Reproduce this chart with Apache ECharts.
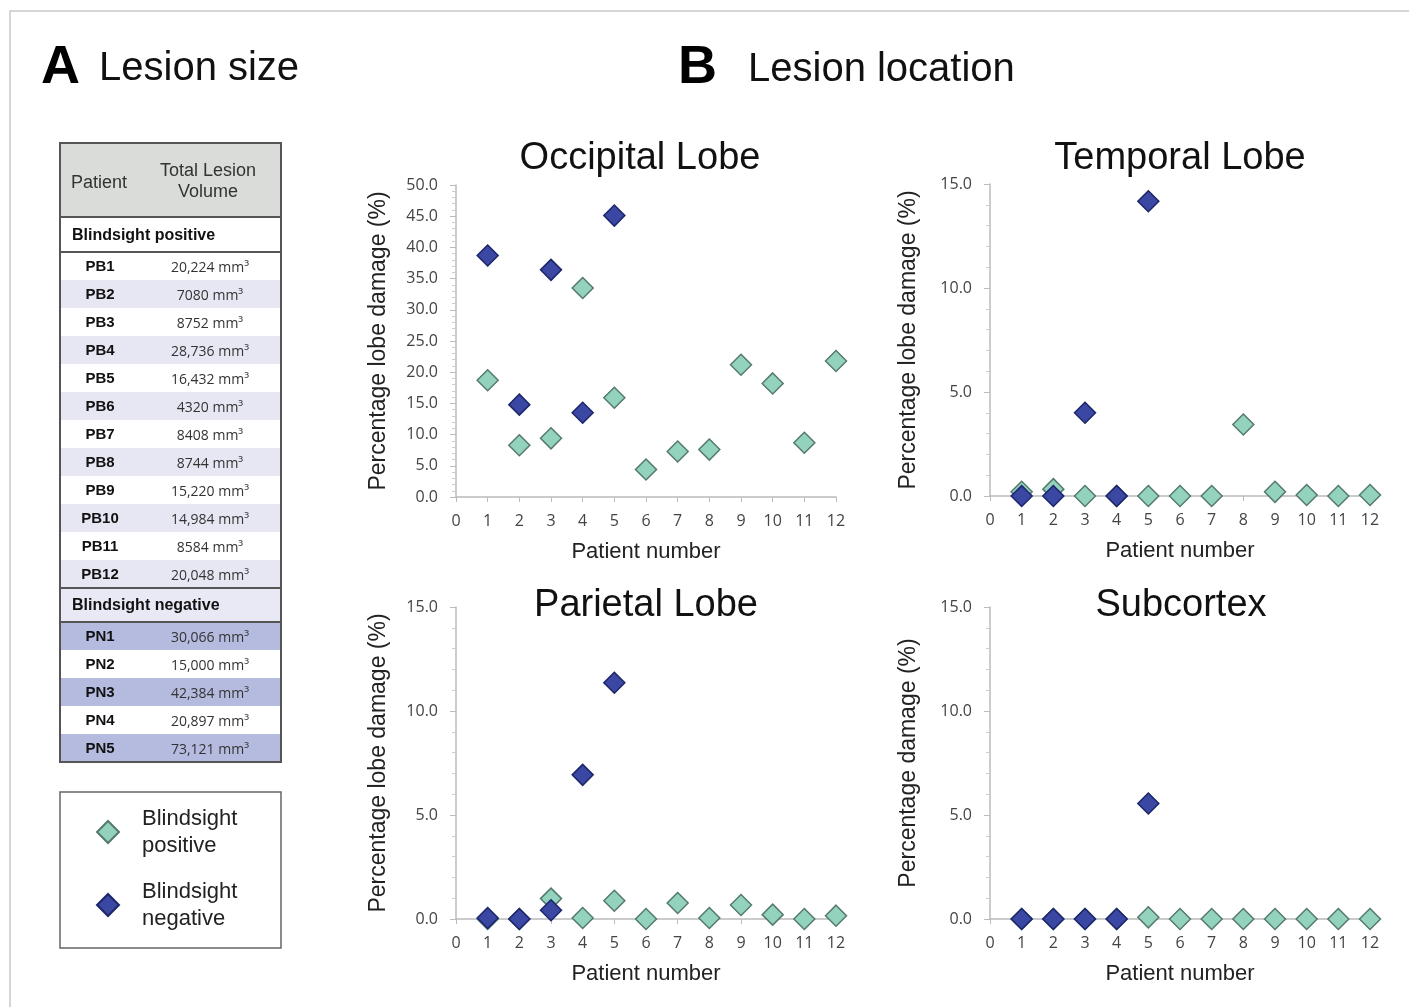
<!DOCTYPE html>
<html>
<head>
<meta charset="utf-8">
<script src="https://cdn.jsdelivr.net/npm/echarts@6/dist/echarts.min.js"></script>
<style>
html,body{margin:0;padding:0;background:#fff;}
#chart{width:1409px;height:1007px;}
</style>
</head>
<body>
<div id="chart"></div>
<script>
// ---------- Data ----------
const patientTicks = [0,1,2,3,4,5,6,7,8,9,10,11,12];
const posPatients = [1,2,3,4,5,6,7,8,9,10,11,12];
const negPatients = [1,2,3,4,5];

const occipitalPos = [18.7, 8.3, 9.4, 33.5, 15.9, 4.4, 7.3, 7.6, 21.2, 18.2, 8.7, 21.8];
const occipitalNeg = [38.7, 14.8, 36.4, 13.5, 45.1];
const temporalPos  = [0.2, 0.33, 0, 0, 0, 0, 0, 3.44, 0.2, 0.05, 0, 0.05];
const temporalNeg  = [0, 0, 4.0, 0, 14.17];
const parietalPos  = [0, 0, 0.98, 0.05, 0.88, 0, 0.77, 0.05, 0.67, 0.21, 0, 0.16];
const parietalNeg  = [0.05, 0, 0.42, 6.93, 11.36];
const subcortexPos = [0, 0, 0, 0, 0.08, 0, 0, 0, 0, 0, 0, 0];
const subcortexNeg = [0, 0, 0, 0, 5.55];

const panelTitles = ['Occipital Lobe', 'Temporal Lobe', 'Parietal Lobe', 'Subcortex'];
const yNames = ['Percentage lobe damage (%)', 'Percentage lobe damage (%)', 'Percentage lobe damage (%)', 'Percentage damage (%)'];
const yMax = [50, 15, 15, 15];

const pbIds = ['PB1','PB2','PB3','PB4','PB5','PB6','PB7','PB8','PB9','PB10','PB11','PB12'];
const pbVolumes = ['20,224','7080','8752','28,736','16,432','4320','8408','8744','15,220','14,984','8584','20,048'];
const pnIds = ['PN1','PN2','PN3','PN4','PN5'];
const pnVolumes = ['30,066','15,000','42,384','20,897','73,121'];

const seriesNames = ['Blindsight positive', 'Blindsight negative'];

// ---------- Styles ----------
const POS_FILL = '#93d3bd', POS_BORDER = '#557a6d';
const NEG_FILL = '#3a47a3', NEG_BORDER = '#1c2668';
const FONT = '"Liberation Sans", Arial, sans-serif';
const TICKFONT = '"Open Sans", "Noto Sans", sans-serif';

const gridPos = [
  {left: 456, top: 185, width: 380, height: 312},
  {left: 990, top: 184, width: 380, height: 312},
  {left: 456, top: 607, width: 380, height: 312},
  {left: 990, top: 607, width: 380, height: 312}
];
const titlePos = [
  {x: 635, y: 135}, {x: 1175, y: 135}, {x: 641, y: 582}, {x: 1176, y: 582}
];
const posData = [occipitalPos, temporalPos, parietalPos, subcortexPos];
const negData = [occipitalNeg, temporalNeg, parietalNeg, subcortexNeg];

const grids = [], xAxes = [], yAxes = [], series = [], titles = [];
for (let i = 0; i < 4; i++) {
  grids.push(Object.assign({containLabel: false}, gridPos[i]));
  titles.push({
    text: panelTitles[i], left: titlePos[i].x, top: titlePos[i].y, textAlign: 'center',
    textStyle: {fontFamily: FONT, fontSize: 38, fontWeight: 'normal', color: '#111'}
  });
  xAxes.push({
    gridIndex: i, type: 'value', min: 0, max: 12, interval: 1,
    name: 'Patient number', nameLocation: 'middle', nameGap: 44,
    nameTextStyle: {fontFamily: FONT, fontSize: 22, color: '#222'},
    axisLine: {show: true, lineStyle: {color: '#bbb', width: 1.5}},
    axisTick: {show: true, length: 5, lineStyle: {color: '#bbb'}},
    axisLabel: {fontFamily: TICKFONT, fontSize: 16, color: '#444', margin: 16,
      formatter: v => patientTicks.includes(v) ? String(v) : ''},
    splitLine: {show: false}
  });
  yAxes.push({
    gridIndex: i, type: 'value', min: 0, max: yMax[i], interval: 5,
    name: yNames[i], nameLocation: 'middle', nameGap: i % 2 === 0 ? 66 : 70,
    nameTextStyle: {fontFamily: FONT, fontSize: 23, color: '#222'},
    axisLine: {show: true, lineStyle: {color: '#bbb', width: 1.5}},
    axisTick: {show: true, length: 6, lineStyle: {color: '#bbb'}},
    minorTick: {show: true, splitNumber: 5, length: 4, lineStyle: {color: '#ccc'}},
    axisLabel: {fontFamily: TICKFONT, fontSize: 16, color: '#444', margin: 18,
      formatter: v => v.toFixed(1)},
    splitLine: {show: false}
  });
  series.push({
    name: seriesNames[0], type: 'scatter', xAxisIndex: i, yAxisIndex: i,
    symbol: 'diamond', symbolSize: 21, clip: false, z: 2,
    itemStyle: {color: POS_FILL, borderColor: POS_BORDER, borderWidth: 1.5, opacity: 1},
    data: posPatients.map((p, k) => [p, posData[i][k]])
  });
  series.push({
    name: seriesNames[1], type: 'scatter', xAxisIndex: i, yAxisIndex: i,
    symbol: 'diamond', symbolSize: 21, clip: false, z: 3,
    itemStyle: {color: NEG_FILL, borderColor: NEG_BORDER, borderWidth: 1.5, opacity: 1},
    data: negPatients.map((p, k) => [p, negData[i][k]])
  });
}

// ---------- Graphic: frame, headings, table, legend box ----------
const g = [];
g.push({type: 'polyline', shape: {points: [[10, 1007], [10, 11], [1409, 11]]},
  style: {stroke: '#c8c8c8', lineWidth: 1.5, fill: null}, silent: true});
g.push({type: 'text', x: 41, y: 68, style: {text: 'A', font: 'bold 54px ' + FONT, fill: '#000', verticalAlign: 'middle'}});
g.push({type: 'text', x: 99, y: 69, style: {text: 'Lesion size', font: '40px ' + FONT, fill: '#111', verticalAlign: 'middle'}});
g.push({type: 'text', x: 678, y: 68, style: {text: 'B', font: 'bold 54px ' + FONT, fill: '#000', verticalAlign: 'middle'}});
g.push({type: 'text', x: 748, y: 70, style: {text: 'Lesion location', font: '40px ' + FONT, fill: '#111', verticalAlign: 'middle'}});

// Table
const TL = 60, TR = 281, TW = TR - TL;
const ROW = 28;
const headTop = 143, headBot = 217;
const sec1Top = 217, sec1Bot = 252;
const pbTop = 252;
const sec2Top = pbTop + ROW * pbIds.length;     // 588
const sec2Bot = sec2Top + 34;                    // 622
const pnTop = sec2Bot;
const tableBot = pnTop + ROW * pnIds.length;     // 762
const colA = 100, colB = 210;

g.push({type: 'rect', shape: {x: TL, y: headTop, width: TW, height: headBot - headTop}, style: {fill: '#d9dcd9'}});
g.push({type: 'rect', shape: {x: TL, y: sec2Top, width: TW, height: sec2Bot - sec2Top}, style: {fill: '#e9e9f5'}});
pbIds.forEach((id, k) => {
  const y = pbTop + k * ROW;
  if (k % 2 === 1) g.push({type: 'rect', shape: {x: TL, y: y, width: TW, height: ROW}, style: {fill: '#e7e7f3'}});
  g.push({type: 'text', x: colA, y: y + ROW / 2 + 1, style: {text: id, font: 'bold 15px ' + FONT, fill: '#111', align: 'center', verticalAlign: 'middle'}});
  g.push({type: 'text', x: colB, y: y + ROW / 2 + 2, style: {text: pbVolumes[k] + ' mm³', font: '14px ' + TICKFONT, fill: '#333', align: 'center', verticalAlign: 'middle'}});
});
pnIds.forEach((id, k) => {
  const y = pnTop + k * ROW;
  if (k % 2 === 0) g.push({type: 'rect', shape: {x: TL, y: y, width: TW, height: ROW}, style: {fill: '#b5bbdf'}});
  g.push({type: 'text', x: colA, y: y + ROW / 2 + 1, style: {text: id, font: 'bold 15px ' + FONT, fill: '#111', align: 'center', verticalAlign: 'middle'}});
  g.push({type: 'text', x: colB, y: y + ROW / 2 + 2, style: {text: pnVolumes[k] + ' mm³', font: '14px ' + TICKFONT, fill: '#333', align: 'center', verticalAlign: 'middle'}});
});
g.push({type: 'text', x: 99, y: 183, style: {text: 'Patient', font: '18px ' + FONT, fill: '#333', align: 'center', verticalAlign: 'middle'}});
g.push({type: 'text', x: 208, y: 182, style: {text: 'Total Lesion\nVolume', font: '18px ' + FONT, fill: '#333', align: 'center', verticalAlign: 'middle', lineHeight: 21}});
g.push({type: 'text', x: 72, y: (sec1Top + sec1Bot) / 2 + 1, style: {text: seriesNames[0], font: 'bold 16px ' + FONT, fill: '#111', verticalAlign: 'middle'}});
g.push({type: 'text', x: 72, y: (sec2Top + sec2Bot) / 2 + 1, style: {text: seriesNames[1], font: 'bold 16px ' + FONT, fill: '#111', verticalAlign: 'middle'}});
[headBot, sec1Bot, sec2Top, sec2Bot].forEach(y => {
  g.push({type: 'line', shape: {x1: TL, y1: y, x2: TR, y2: y}, style: {stroke: '#555', lineWidth: 2}});
});
g.push({type: 'rect', shape: {x: TL, y: headTop, width: TW, height: tableBot - headTop}, style: {fill: null, stroke: '#555', lineWidth: 2}});

// Legend box
g.push({type: 'rect', shape: {x: 60, y: 792, width: 221, height: 156}, style: {fill: null, stroke: '#666', lineWidth: 1.5}});

const option = {
  backgroundColor: '#fff',
  animation: false,
  title: titles,
  grid: grids,
  xAxis: xAxes,
  yAxis: yAxes,
  series: series,
  legend: {
    data: seriesNames, orient: 'vertical', left: 96, top: 805,
    itemWidth: 22, itemHeight: 22, itemGap: 19, padding: 0,
    icon: 'diamond',
    formatter: name => name.replace(' ', '\n'),
    textStyle: {fontFamily: FONT, fontSize: 22, color: '#222', lineHeight: 27, padding: [0, 0, 0, 18]},
    selectedMode: false
  },
  graphic: g
};

const chart = echarts.init(document.getElementById('chart'), null, {renderer: 'canvas'});
chart.setOption(option);
</script>
</body>
</html>
